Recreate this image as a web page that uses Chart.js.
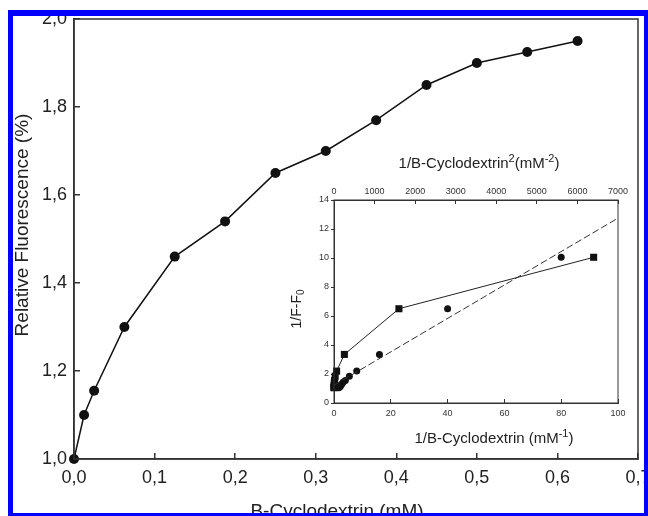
<!DOCTYPE html>
<html lang="en">
<head>
<meta charset="UTF-8">
<title>B-Cyclodextrin fluorescence</title>
<script src="https://cdn.jsdelivr.net/npm/chart.js"></script>
<style>
  html, body { margin: 0; padding: 0; background: #fff; }
  #wrap { position: relative; width: 648px; height: 516px; overflow: hidden; }
  #mainChart { position: absolute; left: 0; top: 0; }
  #insetChart { position: absolute; left: 270px; top: 140px; }
  #frame { position: absolute; left: 8px; top: 10px; width: 640px; height: 506px; box-sizing: border-box;
           border-style: solid; border-color: #0000ff; border-width: 6px 4px 3px 5px; pointer-events: none; }
</style>
</head>
<body>
<div id="wrap">
  <canvas id="mainChart" width="648" height="516"></canvas>
  <canvas id="insetChart" width="378" height="316"></canvas>
  <div id="frame"></div>
</div>
<script>
// main curve: relative fluorescence vs B-cyclodextrin (mM)
const cdConc = [0, 0.0125, 0.025, 0.0625, 0.125, 0.1875, 0.25, 0.3125, 0.375, 0.4375, 0.5, 0.5625, 0.625];
const relFluor = [1.0, 1.10, 1.155, 1.30, 1.46, 1.54, 1.65, 1.70, 1.77, 1.85, 1.90, 1.925, 1.95];

const xTicks = [0, 0.1, 0.2, 0.3, 0.4, 0.5, 0.6, 0.7];
const xTickLabels = ['0,0', '0,1', '0,2', '0,3', '0,4', '0,5', '0,6', '0,7'];
const yTicks = [1.0, 1.2, 1.4, 1.6, 1.8, 2.0];
const yTickLabels = ['1,0', '1,2', '1,4', '1,6', '1,8', '2,0'];

// inset: 1/F-F0 vs 1/[CD] (circles) and vs 1/[CD]^2 (squares)
const invCd = [80, 40, 16, 8, 5.4, 4, 3.2, 2.7, 2.3, 2, 1.8, 1.6];
const invCdSq = [6400, 1600, 256, 64, 28, 16, 10, 7, 5, 4, 3, 2.5];
const invDeltaF = [10.05, 6.5, 3.35, 2.2, 1.85, 1.55, 1.43, 1.3, 1.18, 1.1, 1.08, 1.05];
// dashed linear fit of the circles
const fitX = [0, 100];
const fitY = [1.22, 12.75];

const FONT = '"Liberation Sans", Arial, sans-serif';
const axisColor = '#333';

function fixBox(size, horizontal) {
    return function (s) {
        if (horizontal) s.height = size; else s.width = size;
        s.paddingLeft = 0; s.paddingRight = 0; s.paddingTop = 0; s.paddingBottom = 0;
    };
}

const boxPlugin = {
    id: 'box',
    afterDraw(chart) {
        const a = chart.chartArea, ctx = chart.ctx;
        ctx.save();
        ctx.strokeStyle = axisColor;
        ctx.lineWidth = chart.canvas.id === 'mainChart' ? 1.5 : 1;
        ctx.strokeRect(a.left, a.top, a.right - a.left, a.bottom - a.top);
        ctx.restore();
    }
};

// draws text pieces, each {t, size, dy}, centred on cx
function richText(ctx, parts, cx, y) {
    let total = 0;
    parts.forEach(p => { ctx.font = p.size + 'px ' + FONT; total += ctx.measureText(p.t).width; });
    let x = cx - total / 2;
    parts.forEach(p => {
        ctx.font = p.size + 'px ' + FONT;
        ctx.fillText(p.t, x, y + (p.dy || 0));
        x += ctx.measureText(p.t).width;
    });
}

const mainTitles = {
    id: 'mainTitles',
    afterDraw(chart) {
        const ctx = chart.ctx;
        ctx.save();
        ctx.fillStyle = '#222';
        ctx.textBaseline = 'alphabetic';
        ctx.textAlign = 'center';
        ctx.font = '19px ' + FONT;
        ctx.fillText('B-Cyclodextrin (mM)', 337, 517);
        ctx.translate(28, 225);
        ctx.rotate(-Math.PI / 2);
        ctx.fillText('Relative Fluorescence (%)', 0, 0);
        ctx.restore();
    }
};

const insetTitles = {
    id: 'insetTitles',
    afterDraw(chart) {
        const ctx = chart.ctx;
        ctx.save();
        ctx.fillStyle = '#222';
        ctx.textBaseline = 'alphabetic';
        ctx.textAlign = 'left';
        richText(ctx, [{t: '1/B-Cyclodextrin', size: 15}, {t: '2', size: 11, dy: -6},
                       {t: '(mM', size: 15}, {t: '-2', size: 11, dy: -6}, {t: ')', size: 15}], 209, 28);
        richText(ctx, [{t: '1/B-Cyclodextrin (mM', size: 15}, {t: '-1', size: 11, dy: -6},
                       {t: ')', size: 15}], 224, 303);
        ctx.translate(31, 169);
        ctx.rotate(-Math.PI / 2);
        richText(ctx, [{t: '1/F-F', size: 14}, {t: '0', size: 10, dy: 3}], 0, 0);
        ctx.restore();
    }
};

new Chart(document.getElementById('mainChart'), {
    type: 'line',
    data: {
        datasets: [{
            data: cdConc.map((x, i) => ({x: x, y: relFluor[i]})),
            borderColor: '#111', borderWidth: 1.5, tension: 0,
            pointRadius: 5, pointBackgroundColor: '#111', pointBorderWidth: 0, clip: false
        }]
    },
    options: {
        responsive: false, animation: false, events: [],
        layout: {padding: {top: 19, right: 10, left: 0, bottom: 0}},
        plugins: {legend: {display: false}, tooltip: {enabled: false}},
        scales: {
            x: {
                type: 'linear', min: 0, max: 0.7,
                afterBuildTicks: s => { s.ticks = xTicks.map(v => ({value: v})); },
                afterFit: fixBox(57, true),
                ticks: {callback: (v, i) => xTickLabels[i], font: {family: FONT, size: 18}, color: '#222',
                        padding: 14, maxRotation: 0, autoSkip: false},
                grid: {drawOnChartArea: false, tickLength: -6, color: axisColor, lineWidth: 1.5},
                border: {color: axisColor, width: 1.5}
            },
            y: {
                type: 'linear', min: 1.0, max: 2.0,
                afterBuildTicks: s => { s.ticks = yTicks.map(v => ({value: v})); },
                afterFit: fixBox(74, false),
                ticks: {callback: (v, i) => yTickLabels[i], font: {family: FONT, size: 18}, color: '#222',
                        padding: 13, autoSkip: false},
                grid: {drawOnChartArea: false, tickLength: -6, color: axisColor, lineWidth: 1.5},
                border: {color: axisColor, width: 1.5}
            }
        }
    },
    plugins: [boxPlugin, mainTitles]
});

const insetTickFont = {family: FONT, size: 9};
const plain = v => String(v);

new Chart(document.getElementById('insetChart'), {
    type: 'scatter',
    data: {
        datasets: [
            {
                data: fitX.map((x, i) => ({x: x, y: fitY[i]})),
                xAxisID: 'xb', yAxisID: 'yi', showLine: true, borderDash: [7, 3],
                borderColor: '#333', borderWidth: 1, pointRadius: 0
            },
            {
                data: invCdSq.map((x, i) => ({x: x, y: invDeltaF[i]})),
                xAxisID: 'xt', yAxisID: 'yi', showLine: true, borderColor: '#222', borderWidth: 1,
                pointStyle: 'rect', pointRadius: 5, pointBackgroundColor: '#111', pointBorderWidth: 0, clip: false
            },
            {
                data: invCd.map((x, i) => ({x: x, y: invDeltaF[i]})),
                xAxisID: 'xb', yAxisID: 'yi', showLine: false,
                pointRadius: 3.5, pointBackgroundColor: '#111', pointBorderWidth: 0, clip: false
            }
        ]
    },
    options: {
        responsive: false, animation: false, events: [],
        layout: {padding: {top: 0, right: 30, left: 0, bottom: 0}},
        plugins: {legend: {display: false}, tooltip: {enabled: false}},
        scales: {
            xb: {
                type: 'linear', position: 'bottom', min: 0, max: 100,
                afterFit: fixBox(53, true),
                ticks: {stepSize: 20, callback: plain, font: insetTickFont, color: '#333', padding: 9, maxRotation: 0},
                grid: {drawOnChartArea: false, tickLength: -4, color: axisColor},
                border: {color: axisColor, width: 1}
            },
            xt: {
                type: 'linear', position: 'top', min: 0, max: 7000,
                afterFit: fixBox(60, true),
                ticks: {stepSize: 1000, callback: plain, font: insetTickFont, color: '#333', padding: 7, maxRotation: 0},
                grid: {drawOnChartArea: false, tickLength: -4, color: axisColor},
                border: {color: axisColor, width: 1}
            },
            yi: {
                type: 'linear', position: 'left', min: 0, max: 14,
                afterFit: fixBox(64, false),
                ticks: {stepSize: 2, callback: plain, font: insetTickFont, color: '#333', padding: 2},
                grid: {drawOnChartArea: false, tickLength: 3, color: axisColor},
                border: {color: axisColor, width: 1}
            }
        }
    },
    plugins: [boxPlugin, insetTitles]
});
</script>
</body>
</html>
